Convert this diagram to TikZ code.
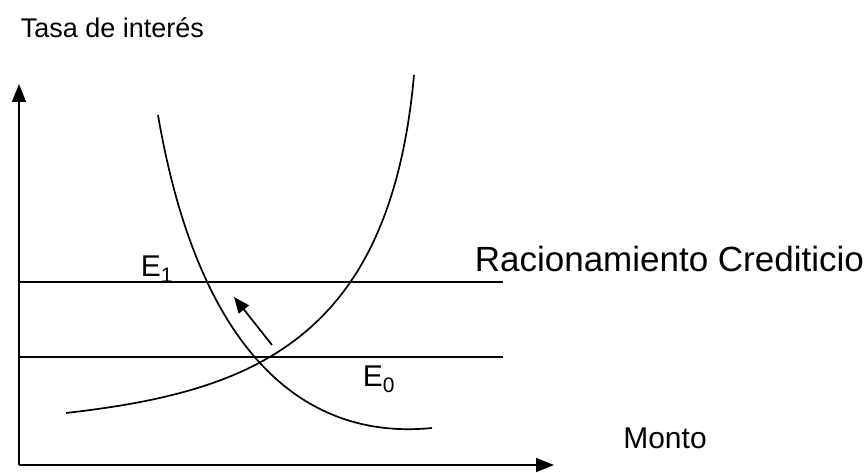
\documentclass[tikz,border=0pt]{standalone}
\usepackage{fontspec}
\setmainfont{Liberation Sans}
\usetikzlibrary{positioning, arrows.meta}
\begin{document}
\begin{tikzpicture}[x=1pt, y=1pt, line width=1.7pt,
  eje/.style={-{Triangle[width=14pt,length=18pt]}},
  flecha/.style={-{Triangle[width=13pt,length=16pt]}},
  etiqueta/.style={inner sep=0pt, font=\fontsize{30}{36}\selectfont}]
  \useasboundingbox (0,0) rectangle (866,472);
  % ejes
  \coordinate (O) at (19,7);
  \coordinate (ytope) at (19,388);
  \coordinate (xfin) at (554,7);
  \draw[eje] (O) -- (ytope);
  \draw[eje] (O) -- (xfin);
  % tasas
  \coordinate (a0) at (19,190);
  \coordinate (a1) at (503,190);
  \coordinate (b0) at (19,115);
  \coordinate (b1) at (503,115);
  \draw (a0) -- (a1);
  \draw (b0) -- (b1);
  % curvas
  \coordinate (d0) at (158,357);
  \coordinate (d1) at (432,44);
  \coordinate (s0) at (66,59);
  \coordinate (s1) at (414,397);
  \draw (d0) .. controls (195,140) and (290,30) .. (d1);
  \draw (s0) .. controls (250,80) and (390,130) .. (s1);
  % desplazamiento
  \coordinate (f0) at (272,127);
  \coordinate (f1) at (234,175);
  \draw[flecha] (f0) -- (f1);
  % textos
  \node[etiqueta, anchor=west, font=\fontsize{27}{32}\selectfont] (tasa) at (20,444) {Tasa de interés};
  \node[etiqueta, anchor=west, font=\fontsize{35}{42}\selectfont] (rac) at (474,213) {Racionamiento Crediticio};
  \node[etiqueta] (e1) at (157,203) {E\textsubscript{1}};
  \node[etiqueta] (e0) at (379,93) {E\textsubscript{0}};
  \node[etiqueta] (monto) at (665,34) {Monto};
\end{tikzpicture}
\end{document}
